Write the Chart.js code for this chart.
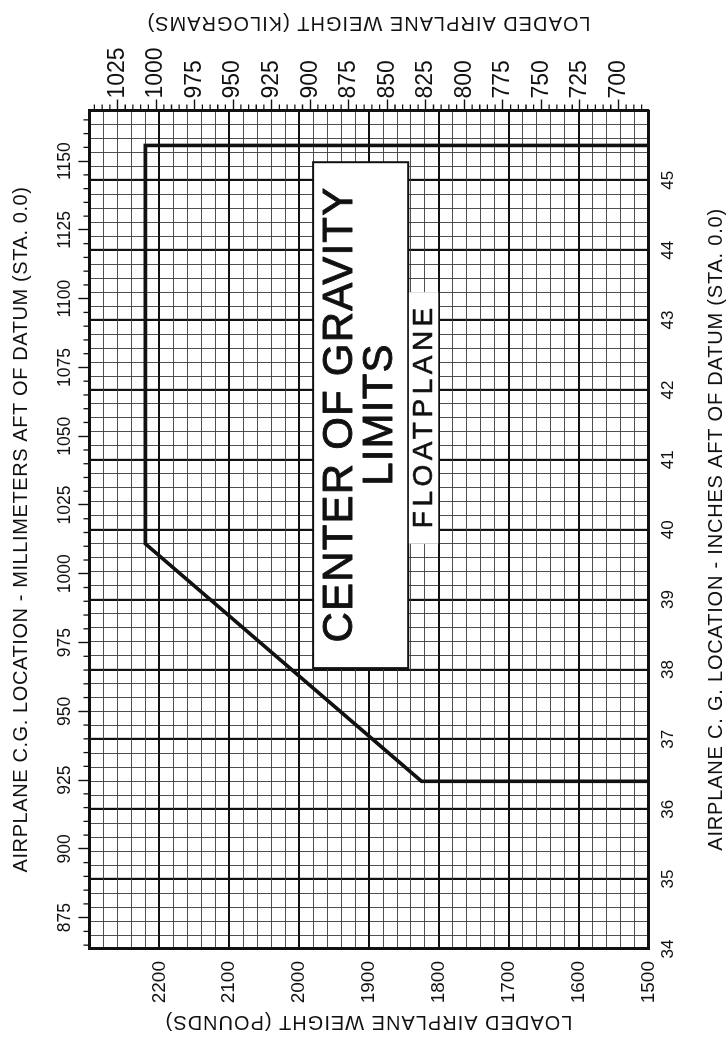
<!DOCTYPE html>
<html>
<head>
<meta charset="utf-8">
<title>Center of Gravity Limits - Floatplane</title>
<script src="https://cdn.jsdelivr.net/npm/chart.js@4.4.1/dist/chart.umd.min.js"></script>
<style>
  html, body { margin: 0; padding: 0; background: #fff; overflow: hidden; }
  /* the chart is laid out landscape and turned a quarter to stand upright on the page */
  #wrap {
    position: absolute; left: 0; top: 0;
    width: 1047px; height: 728px;
    transform-origin: 0 0;
    transform: translate(0, 1047px) rotate(-90deg);
  }
  canvas { display: block; }
</style>
</head>
<body>
<div id="wrap"><canvas id="cgChart" width="1047" height="728"></canvas></div>
<script>
const inchTicks = [34, 35, 36, 37, 38, 39, 40, 41, 42, 43, 44, 45];
const poundTicks = [1500, 1600, 1700, 1800, 1900, 2000, 2100, 2200];
const mmTicks = [875, 900, 925, 950, 975, 1000, 1025, 1050, 1075, 1100, 1125, 1150];
const kgTicks = [700, 725, 750, 775, 800, 825, 850, 875, 900, 925, 950, 975, 1000, 1025];

// floatplane envelope: forward limit, sloped forward limit, max weight, aft limit
const envelopeArm = [36.4, 36.4, 39.8, 45.5, 45.5];
const envelopeWeight = [1500, 1825, 2220, 2220, 1500];

const MM_PER_IN = 25.4;
const LB_PER_KG = 2.20462;
const ARM_MIN = 34, ARM_MAX = 46;
const LB_MIN = 1500, LB_MAX = 2300;

const FONT = '"Liberation Sans", Arial, Helvetica, sans-serif';
const INK = '#111';
const MINOR = '#3c3c3c';

const onStep = (v, step) => Math.abs(v / step - Math.round(v / step)) < 1e-6;

function drawText(ctx, text, x, y, angle, size, spacing, weight) {
    ctx.save();
    ctx.translate(x, y);
    ctx.rotate(angle);
    ctx.font = `${size}px ${FONT}`;
    ctx.letterSpacing = `${spacing}px`;
    ctx.fillStyle = INK;
    ctx.textAlign = 'center';
    ctx.textBaseline = 'middle';
    ctx.fillText(text, spacing / 2, 0);
    if (weight) {
        // thicken the strokes a little
        ctx.strokeStyle = INK;
        ctx.lineWidth = weight;
        ctx.lineJoin = 'round';
        ctx.strokeText(text, spacing / 2, 0);
    }
    ctx.restore();
}

const whiteBackground = {
    id: 'whiteBackground',
    beforeDraw(chart) {
        const { ctx, width, height } = chart;
        ctx.save();
        ctx.fillStyle = '#fff';
        ctx.fillRect(0, 0, width, height);
        ctx.restore();
    }
};

// 5 mm / 5 kg marks between the labelled ticks
const minorTicks = {
    id: 'minorTicks',
    afterDraw(chart) {
        const { ctx, chartArea: a, scales } = chart;
        ctx.save();
        ctx.strokeStyle = INK;
        ctx.lineWidth = 1.3;
        ctx.beginPath();
        const mm = scales.x2;
        for (let v = Math.ceil(mm.min / 5) * 5; v <= mm.max; v += 5) {
            if (v % 25 === 0) continue;
            const p = mm.getPixelForValue(v);
            ctx.moveTo(p, a.top);
            ctx.lineTo(p, a.top - 6);
        }
        const kg = scales.y2;
        for (let v = Math.ceil(kg.min / 5) * 5; v <= kg.max; v += 5) {
            if (v % 25 === 0) continue;
            const p = kg.getPixelForValue(v);
            ctx.moveTo(a.right, p);
            ctx.lineTo(a.right + 6, p);
        }
        ctx.stroke();
        ctx.restore();
    }
};

const limitLabels = {
    id: 'limitLabels',
    afterDatasetsDraw(chart) {
        const { ctx, scales: { x, y } } = chart;

        const l = x.getPixelForValue(38.02), r = x.getPixelForValue(45.26);
        const t = y.getPixelForValue(1980), b = y.getPixelForValue(1844);
        ctx.save();
        ctx.fillStyle = '#fff';
        ctx.fillRect(l, t, r - l, b - t);
        ctx.strokeStyle = INK;
        ctx.lineWidth = 2;
        ctx.strokeRect(l, t, r - l, b - t);
        ctx.restore();
        const cx = (l + r) / 2, h = b - t;
        drawText(ctx, 'CENTER OF GRAVITY', cx, t + h * 0.285, 0, 42, 1.2, 0.9);
        drawText(ctx, 'LIMITS', cx, t + h * 0.71, 0, 42, 1.2, 0.9);

        const fl = x.getPixelForValue(39.8), fr = x.getPixelForValue(43.4);
        const ft = y.getPixelForValue(1843), fb = y.getPixelForValue(1801);
        ctx.save();
        ctx.fillStyle = '#fff';
        ctx.fillRect(fl, ft, fr - fl, fb - ft);
        ctx.restore();
        drawText(ctx, 'FLOATPLANE', (fl + fr) / 2, (ft + fb) / 2 + 1, 0, 28, 4.5, 0.6);
    }
};

const axisTitles = {
    id: 'axisTitles',
    afterDraw(chart) {
        const { ctx, chartArea: a } = chart;
        const cx = (a.left + a.right) / 2, cy = (a.top + a.bottom) / 2;
        drawText(ctx, 'AIRPLANE C. G. LOCATION - INCHES AFT OF DATUM (STA. 0.0)', cx, a.bottom + 68, 0, 20, 0.8);
        drawText(ctx, 'AIRPLANE C.G. LOCATION - MILLIMETERS AFT OF DATUM (STA. 0.0)', cx, a.top - 68, 0, 20, 0.6);
        drawText(ctx, 'LOADED AIRPLANE WEIGHT (POUNDS)', a.left - 73, cy, -Math.PI / 2, 20, 1);
        drawText(ctx, 'LOADED AIRPLANE WEIGHT (KILOGRAMS)', a.right + 88, cy, -Math.PI / 2, 20, 1);
    }
};

const tickFont = size => ({ family: FONT, size: size });
const edge = { display: true, color: INK, width: 3 };

new Chart(document.getElementById('cgChart'), {
    type: 'scatter',
    data: {
        datasets: [{
            data: envelopeArm.map((arm, i) => ({ x: arm, y: envelopeWeight[i] })),
            showLine: true,
            borderColor: INK,
            borderWidth: 3.6,
            borderJoinStyle: 'miter',
            pointRadius: 0,
            fill: false,
            tension: 0
        }]
    },
    options: {
        responsive: false,
        animation: false,
        devicePixelRatio: 1,
        layout: { padding: 0 },
        plugins: { legend: { display: false }, tooltip: { enabled: false } },
        scales: {
            x: {
                type: 'linear', position: 'bottom', min: ARM_MIN, max: ARM_MAX,
                afterFit: s => { s.height = 79.3; },
                ticks: {
                    stepSize: 0.2, autoSkip: false, maxRotation: 0, minRotation: 0,
                    padding: 9, color: INK, font: tickFont(17),
                    callback: v => onStep(v, 1) && inchTicks.includes(Math.round(v)) ? String(Math.round(v)) : ''
                },
                grid: {
                    drawTicks: false,
                    color: c => onStep(c.tick.value, 1) ? INK : MINOR,
                    lineWidth: c => onStep(c.tick.value, 1) ? 2.2 : 0.9
                },
                border: edge
            },
            y: {
                type: 'linear', position: 'left', min: LB_MIN, max: LB_MAX,
                afterFit: s => { s.width = 98; },
                ticks: {
                    stepSize: 20, autoSkip: false,
                    padding: 12, color: INK, font: tickFont(19),
                    callback: v => poundTicks.includes(v) ? String(v) : ''
                },
                grid: {
                    drawTicks: false,
                    color: c => onStep(c.tick.value, 100) ? INK : MINOR,
                    lineWidth: c => onStep(c.tick.value, 100) ? 2 : 0.9
                },
                border: edge
            },
            x2: {
                type: 'linear', position: 'top',
                min: ARM_MIN * MM_PER_IN, max: ARM_MAX * MM_PER_IN,
                afterBuildTicks: s => { s.ticks = mmTicks.map(value => ({ value })); },
                afterFit: s => { s.height = 89.4; },
                ticks: {
                    autoSkip: false, maxRotation: 0, minRotation: 0,
                    padding: 3, color: INK, font: tickFont(17.5),
                    callback: v => String(v)
                },
                grid: { drawOnChartArea: false, drawTicks: true, tickLength: 11, tickWidth: 1.4, tickColor: INK },
                border: edge
            },
            y2: {
                type: 'linear', position: 'right',
                min: LB_MIN / LB_PER_KG, max: LB_MAX / LB_PER_KG,
                afterBuildTicks: s => { s.ticks = kgTicks.map(value => ({ value })); },
                afterFit: s => { s.width = 110.5; },
                ticks: {
                    autoSkip: false,
                    padding: 1, color: INK, font: tickFont(23),
                    callback: v => String(v)
                },
                grid: { drawOnChartArea: false, drawTicks: true, tickLength: 11, tickWidth: 1.4, tickColor: INK },
                border: edge
            }
        }
    },
    plugins: [whiteBackground, minorTicks, limitLabels, axisTitles]
});
</script>
</body>
</html>
